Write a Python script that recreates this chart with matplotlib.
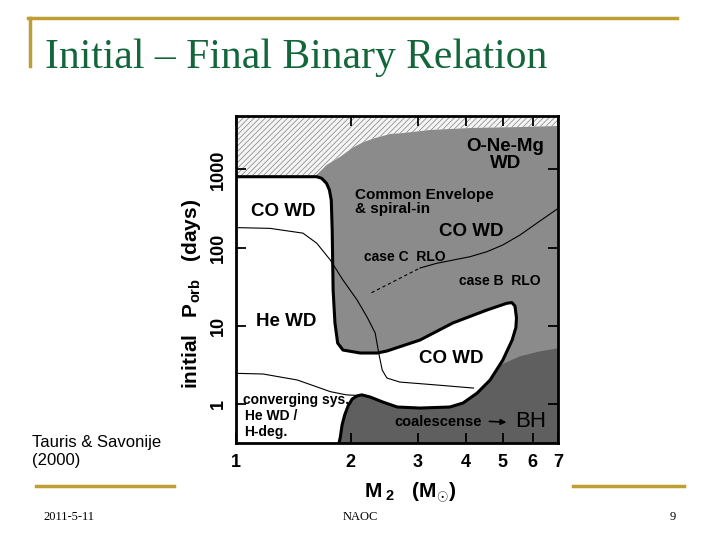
import matplotlib
matplotlib.use("Agg")
import matplotlib.pyplot as plt
from matplotlib.lines import Line2D

plt.rcParams['font.family'] = ['Liberation Sans', 'DejaVu Sans']
plt.rcParams['mathtext.fontset'] = 'custom'
plt.rcParams['mathtext.rm'] = 'Liberation Sans:bold'
plt.rcParams['mathtext.it'] = 'Liberation Sans:bold'
plt.rcParams['mathtext.bf'] = 'Liberation Sans:bold'
plt.rcParams['hatch.linewidth'] = 0.5

# region boundaries, companion mass M2 (Msun) vs initial P_orb (days)
# white region (He WD / CO WD outcomes), thick outline
white_m = [1.00, 1.63, 1.68, 1.73, 1.76, 1.78, 1.79, 1.80, 1.82, 1.85, 1.91, 2.12, 2.35, 2.49,
           3.04, 3.71, 4.55, 5.13, 5.29, 5.39, 5.44, 5.42, 5.30, 5.01, 4.64, 4.29, 3.94, 3.64,
           3.04, 2.65, 2.43, 2.25, 2.14, 2.08, 2.02, 1.97, 1.93, 1.90, 1.88, 1.865]
white_p = [805, 805, 768, 662, 545, 405, 167, 28.7, 10.9, 6.02, 4.90, 4.49, 4.49, 4.76,
           6.58, 10.9, 15.9, 19.4, 19.8, 17.9, 12.6, 9.5, 6.58, 3.65, 2.03, 1.38, 1.03, 0.916,
           0.889, 0.916, 1.06, 1.23, 1.31, 1.27, 1.16, 0.944, 0.724, 0.54, 0.379, 0.315]

# dark region (coalescence -> BH)
dark_m = [1.865, 1.88, 1.90, 1.93, 1.97, 2.02, 2.08, 2.14, 2.25, 2.43, 2.65, 3.04, 3.64,
          3.94, 4.29, 4.64, 4.92, 5.56, 6.27, 7.0, 7.0]
dark_p = [0.315, 0.379, 0.54, 0.724, 0.944, 1.16, 1.27, 1.31, 1.23, 1.06, 0.916, 0.889, 0.916,
          1.03, 1.38, 2.03, 3.06, 3.99, 4.62, 5.05, 0.315]

# hatched region at the top (no data)
hatch_m = [1.0, 1.62, 1.68, 1.73, 1.88, 2.02, 2.16, 2.32, 2.54, 2.74, 3.23, 4.11, 5.56, 7.0, 7.0, 1.0]
hatch_p = [830, 830, 980, 1136, 1449, 1873, 2233, 2513, 2830, 2910, 3185, 3375, 3475, 3580, 5000, 5000]

# thin boundary He WD / CO WD
he_co_m = [1.0, 1.23, 1.50, 1.63, 1.77, 1.91, 2.08, 2.21, 2.32, 2.37, 2.42, 2.49, 2.69, 3.37, 4.20]
he_co_p = [180, 176, 153, 114, 69.3, 38.5, 21.4, 12.9, 8.09, 4.49, 2.72, 2.15, 1.91, 1.75, 1.60]

# thin boundary of converging systems
conv_m = [1.0, 1.18, 1.45, 1.63, 1.77, 1.95, 2.07]
conv_p = [2.47, 2.42, 2.03, 1.66, 1.44, 1.31, 1.29]

# case B / case C RLO division
rlo_m = [3.04, 3.36, 4.11, 4.55, 5.01, 5.56, 6.14, 7.0]
rlo_p = [54.8, 62.9, 76.4, 88.5, 108, 145, 204, 318]
rlo_dash_m = [2.27, 3.04]
rlo_dash_p = [26.5, 54.8]

xticks = [1, 2, 3, 4, 5, 6, 7]
yticks = [1, 10, 100, 1000]

gold = '#bf9f34'

fig = plt.figure(figsize=(7.2, 5.4), dpi=100)

# slide decoration
fig.add_artist(Line2D([28/720, 677/720], [1-18/540, 1-18/540], color=gold, lw=2.5))
fig.add_artist(Line2D([30/720, 30/720], [1-18/540, 1-66/540], color=gold, lw=2.5))
fig.add_artist(Line2D([36/720, 174/720], [1-486/540, 1-486/540], color=gold, lw=2.5))
fig.add_artist(Line2D([573/720, 684/720], [1-486/540, 1-486/540], color=gold, lw=2.5))
fig.text(45/720, 1-68/540, 'Initial – Final Binary Relation', family='Liberation Serif',
         fontsize=30, color='#13653a', ha='left', va='baseline')
fig.text(32/720, 1-452/540, 'Tauris & Savonije\n(2000)', fontsize=12, ha='left', va='center',
         linespacing=1.25)
fig.text(43/720, 1-517/540, '2011-5-11', family='Liberation Serif', fontsize=9, ha='left', va='center')
fig.text(360/720, 1-517/540, 'NAOC', family='Liberation Serif', fontsize=9, ha='center', va='center')
fig.text(673/720, 1-517/540, '9', family='Liberation Serif', fontsize=9, ha='center', va='center')

ax = fig.add_axes([0.3273, 0.1791, 0.4481, 0.6061])
ax.set_xscale('log')
ax.set_yscale('log')
ax.set_xlim(1, 7)
ax.set_ylim(0.315, 4808)
ax.set_facecolor('#8b8b8b')

ax.fill(white_m + [1.0], white_p + [0.315], color='white', zorder=1)
ax.fill(dark_m, dark_p, color='#5f5f5f', zorder=1)
ax.fill(hatch_m, hatch_p, facecolor='#f4f4f4', edgecolor='#808080', linewidth=0,
        hatch='//////', zorder=1)

ax.plot(white_m, white_p, color='black', lw=2.2, zorder=3, solid_capstyle='butt')
ax.plot(he_co_m, he_co_p, color='black', lw=0.8, zorder=2)
ax.plot(conv_m, conv_p, color='black', lw=0.8, zorder=2)
ax.plot(rlo_m, rlo_p, color='black', lw=0.8, zorder=2)
ax.plot(rlo_dash_m, rlo_dash_p, color='black', lw=0.8, ls=(0, (3, 2.5)), zorder=2)

# region labels
ax.text(5.08, 1525, 'O-Ne-Mg\nWD', fontsize=13.5, weight='bold', ha='center', va='center',
        linespacing=1.0, zorder=4)
ax.text(2.06, 382, 'Common Envelope\n& spiral-in', fontsize=11, weight='bold', ha='left',
        va='center', linespacing=1.0, zorder=4)
ax.text(4.15, 160, 'CO WD', fontsize=13.5, weight='bold', ha='center', va='center', zorder=4)
ax.text(1.333, 288, 'CO WD', fontsize=13.5, weight='bold', ha='center', va='center', zorder=4)
ax.text(2.78, 76.5, 'case C  RLO', fontsize=10, weight='bold', ha='center', va='center', zorder=4)
ax.text(4.92, 37.4, 'case B  RLO', fontsize=10, weight='bold', ha='center', va='center', zorder=4)
ax.text(1.36, 11.3, 'He WD', fontsize=13.5, weight='bold', ha='center', va='center', zorder=4)
ax.text(3.68, 3.84, 'CO WD', fontsize=13.5, weight='bold', ha='center', va='center', zorder=4)
ax.text(1.047, 1.13, 'converging sys.', fontsize=10, weight='bold', ha='left', va='center', zorder=4)
ax.text(1.055, 0.71, 'He WD /', fontsize=10, weight='bold', ha='left', va='center', zorder=4)
ax.text(1.055, 0.444, 'H-deg.', fontsize=10, weight='bold', ha='left', va='center', zorder=4)
ax.text(3.39, 0.595, 'coalescense', fontsize=10.5, weight='bold', ha='center', va='center', zorder=4)
ax.annotate('', xy=(5.12, 0.585), xytext=(4.62, 0.60),
            arrowprops=dict(arrowstyle='-|>', color='black', lw=1.2, mutation_scale=8,
                            shrinkA=0, shrinkB=0), zorder=4)
ax.text(5.93, 0.595, 'BH', fontsize=16, ha='center', va='center', zorder=4)

# axes frame and ticks
for s in ax.spines.values():
    s.set_linewidth(2.0)
    s.set_zorder(5)
ax.minorticks_off()
ax.set_xticks(xticks)
ax.set_xticklabels([str(t) for t in xticks], fontsize=13, weight='bold')
ax.set_yticks(yticks)
ax.set_yticklabels([str(t) for t in yticks], fontsize=13, weight='bold', rotation=90, va='center')
ax.tick_params(which='major', direction='in', length=7, width=1.3, top=True, right=True, zorder=6)
ax.tick_params(axis='x', pad=8)
ax.tick_params(axis='y', pad=6)

ax.set_xlabel(r'M$_{\ 2}$   (M$_{\odot}$)', fontsize=15, weight='bold')
ax.xaxis.set_label_coords(0.54, -0.115)
ax.set_ylabel(r'initial   P$_{\rm orb}$   (days)', fontsize=15, weight='bold')
ax.yaxis.set_label_coords(-0.10, 0.455)

fig.savefig('out.png', dpi=100)
